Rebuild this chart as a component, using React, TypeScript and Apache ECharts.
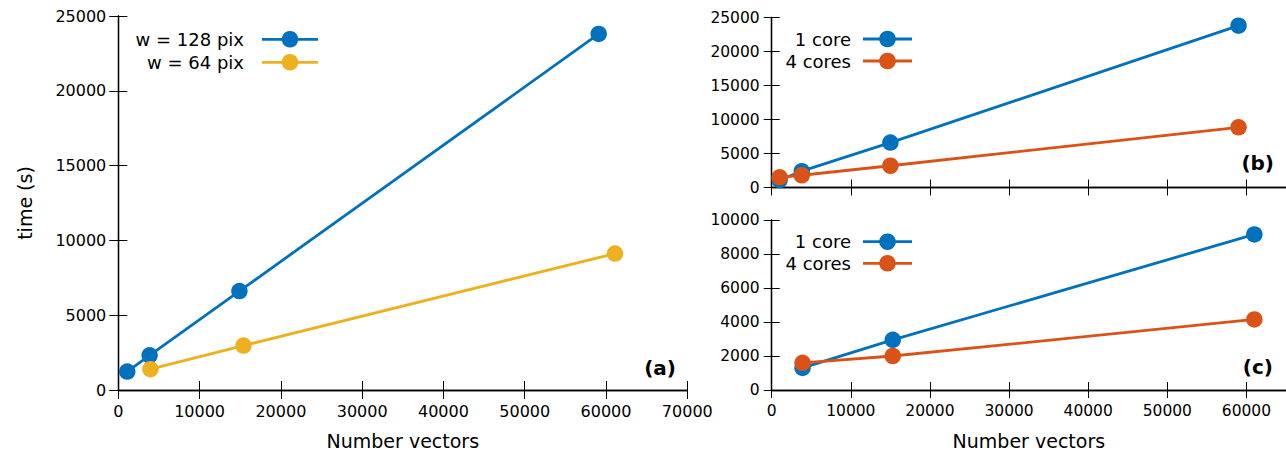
import React, { useEffect, useRef } from "react";
import * as echarts from "echarts";

// ---- Data ----
// Panel (a)
const xA128 = [1100, 3850, 14900, 59100];
const tA128 = [1230, 2320, 6610, 23800];
const xA64 = [3950, 15400, 61100];
const tA64 = [1390, 2970, 9120];
// Panel (b)
const xB = [1000, 3800, 15000, 59000];
const tB1core = [1100, 2400, 6600, 23800];
const tB4cores = [1500, 1800, 3200, 8850];
// Panel (c)
const xC = [3900, 15300, 61000];
const tC1core = [1300, 2950, 9150];
const tC4cores = [1600, 2000, 4150];

const legendA = ["w = 128 pix", "w = 64 pix"];
const legendBC = ["1 core", "4 cores"];
const panelLabels = ["(a)", "(b)", "(c)"];
const xName = "Number vectors";
const yName = "time (s)";

const BLUE = "#0072BD";
const YELLOW = "#EDB120";
const ORANGE = "#D95319";
const FONT = "DejaVu Sans";

const zip = (xs: number[], ys: number[]) => xs.map((x, i) => [x, ys[i]]);
const plain = (v: number) => String(v);

function axesFor(
  gi: number,
  xmax: number,
  xint: number,
  ymax: number,
  yint: number,
  showXLabels: boolean,
  tickLen: number,
  fs: number,
  withNames: { x?: boolean; y?: boolean }
) {
  const line = { show: true, lineStyle: { color: "#000", width: 1.3 } };
  const tick = (show: boolean) => ({ show, inside: true, length: tickLen, lineStyle: { color: "#000", width: 1 } });
  const xs: any[] = [
    {
      type: "value", gridIndex: gi, position: "bottom", min: 0, max: xmax, interval: xint,
      axisLine: line, axisTick: tick(true), splitLine: { show: false },
      axisLabel: { show: showXLabels, fontSize: fs, color: "#000", fontFamily: FONT, margin: 13, formatter: plain, showMaxLabel: xmax % xint === 0 },
      name: withNames.x ? xName : "", nameLocation: "middle", nameGap: 41,
      nameTextStyle: { fontSize: 19, color: "#000", fontFamily: FONT },
    },
    {
      type: "value", gridIndex: gi, position: "top", min: 0, max: xmax, interval: xint,
      axisLine: line, axisTick: tick(true), splitLine: { show: false }, axisLabel: { show: false },
    },
  ];
  const ys: any[] = [
    {
      type: "value", gridIndex: gi, position: "left", min: 0, max: ymax, interval: yint,
      axisLine: line, axisTick: tick(true), splitLine: { show: false },
      axisLabel: { show: true, fontSize: fs, color: "#000", fontFamily: FONT, margin: 12, formatter: plain },
      name: withNames.y ? yName : "", nameLocation: "middle", nameGap: 84,
      nameTextStyle: { fontSize: 19, color: "#000", fontFamily: FONT },
    },
    {
      type: "value", gridIndex: gi, position: "right", min: 0, max: ymax, interval: yint,
      axisLine: line, axisTick: tick(true), splitLine: { show: false }, axisLabel: { show: false },
    },
  ];
  return { xs, ys };
}

function legendItems(textRight: number, lineL: number, lineR: number, rows: number[], names: string[], colors: string[]) {
  const els: any[] = [];
  rows.forEach((y, i) => {
    els.push({
      type: "text", x: textRight, y,
      style: { text: names[i], fill: "#000", font: `18px '${FONT}'`, textAlign: "right", textVerticalAlign: "middle" },
    });
    els.push({ type: "line", shape: { x1: lineL, y1: y, x2: lineR, y2: y }, style: { stroke: colors[i], lineWidth: 2.8 } });
    els.push({ type: "circle", shape: { cx: (lineL + lineR) / 2, cy: y, r: 8.3 }, style: { fill: colors[i] } });
  });
  return els;
}

function panelLabel(text: string, x: number, y: number) {
  return {
    type: "text", x, y,
    style: { text, fill: "#000", font: `bold 20px '${FONT}'`, textAlign: "right", textVerticalAlign: "middle" },
  };
}

export default function App() {
  const ref = useRef<HTMLDivElement>(null);
  useEffect(() => {
    if (!ref.current) return;
    const chart = echarts.init(ref.current, null, { renderer: "svg" });
    const a = axesFor(0, 70000, 10000, 25000, 5000, true, 9, 16, { x: true, y: true });
    const b = axesFor(1, 65000, 10000, 25000, 5000, false, 8, 15.5, {});
    const c = axesFor(2, 65000, 10000, 10000, 2000, true, 8, 15.5, { x: true });
    const lineSeries = (name: string, xi: number, yi: number, data: number[][], color: string) => ({
      type: "line", name, xAxisIndex: xi, yAxisIndex: yi, data,
      symbol: "circle", symbolSize: 16.5, showSymbol: true,
      lineStyle: { color, width: 2.8 }, itemStyle: { color },
    });
    chart.setOption({
      animation: false,
      backgroundColor: "#fff",
      grid: [
        { left: 118.3, top: 16, width: 569, height: 374 },
        { left: 771.7, top: 17.5, width: 516.1, height: 170 },
        { left: 771.7, top: 220, width: 516.1, height: 170 },
      ],
      xAxis: [...a.xs, ...b.xs, ...c.xs],
      yAxis: [...a.ys, ...b.ys, ...c.ys],
      series: [
        lineSeries(legendA[0], 0, 0, zip(xA128, tA128), BLUE),
        lineSeries(legendA[1], 0, 0, zip(xA64, tA64), YELLOW),
        lineSeries(legendBC[0], 2, 2, zip(xB, tB1core), BLUE),
        lineSeries(legendBC[1], 2, 2, zip(xB, tB4cores), ORANGE),
        lineSeries(legendBC[0], 4, 4, zip(xC, tC1core), BLUE),
        lineSeries(legendBC[1], 4, 4, zip(xC, tC4cores), ORANGE),
      ],
      graphic: [
        ...legendItems(244, 262, 318, [39.3, 62.3], legendA, [BLUE, YELLOW]),
        ...legendItems(851, 863, 912, [39, 61], legendBC, [BLUE, ORANGE]),
        ...legendItems(851, 863, 912, [241.7, 263.3], legendBC, [BLUE, ORANGE]),
        panelLabel(panelLabels[0], 676, 368),
        panelLabel(panelLabels[1], 1274, 163),
        panelLabel(panelLabels[2], 1273, 366.7),
      ],
    });
    return () => chart.dispose();
  }, []);
  return <div ref={ref} style={{ position: "absolute", left: 0, top: 0, width: 1286, height: 457 }} />;
}
